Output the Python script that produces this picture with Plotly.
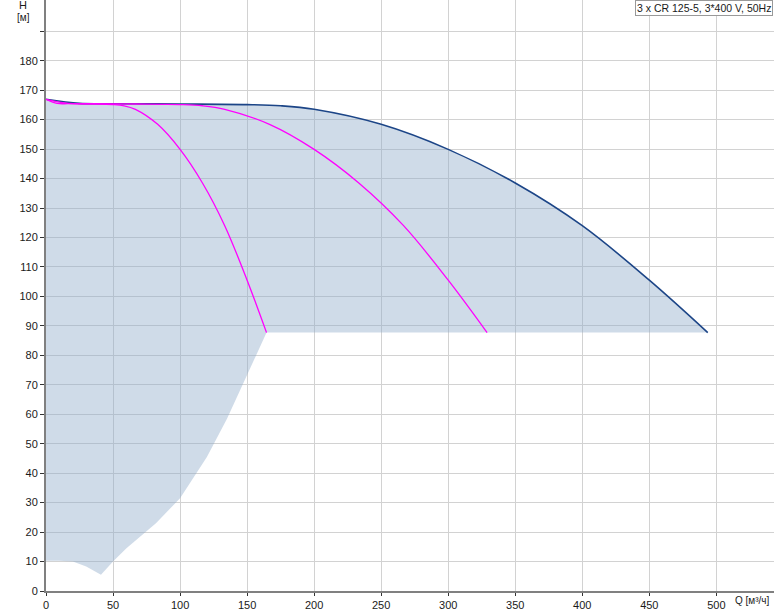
import plotly.graph_objects as go

# Data
q_three = [0, 25, 50, 100, 150, 175, 200, 250, 300, 350, 400, 450, 493.6]
h_three = [166.9, 165.5, 165.4, 165.3, 165.1, 164.7, 163.5, 158.4, 149.9, 138.5, 124.0, 105.5, 87.7]

q_two = [0, 16.7, 33.3, 66.7, 100, 116.7, 133.3, 166.7, 200, 233.3, 266.7, 300, 329]
h_two = [166.9, 165.5, 165.4, 165.3, 165.1, 164.7, 163.5, 158.4, 149.9, 138.5, 124.0, 105.5, 87.7]

q_one = [0, 8.3, 16.7, 33.3, 50, 58.3, 66.7, 83.3, 100, 116.7, 133.3, 150, 164.5]
h_one = [166.9, 165.5, 165.4, 165.3, 165.1, 164.7, 163.5, 158.4, 149.9, 138.5, 124.0, 105.5, 87.7]

q_low = [0, 10, 20, 30, 41, 50, 60, 70, 82, 100, 112, 120, 135, 146, 155, 164.5, 493.6]
h_low = [10.3, 10.3, 10.0, 8.3, 5.5, 10.0, 14.5, 18.5, 23.0, 31.5, 40.0, 45.5, 58.5, 69.5, 78.5, 87.7, 87.7]

x_ticks = [0, 50, 100, 150, 200, 250, 300, 350, 400, 450, 500]
y_ticks = [0, 10, 20, 30, 40, 50, 60, 70, 80, 90, 100, 110, 120, 130, 140, 150, 160, 170, 180, 190]
y_ticktext = [str(v) for v in y_ticks[:-1]] + [""]

title_text = "3 x CR 125-5, 3*400 V, 50Hz"

fig = go.Figure()

fig.add_trace(go.Scatter(x=q_low, y=h_low, mode="lines", line=dict(width=0, color="rgba(0,0,0,0)"),
                         hoverinfo="skip", showlegend=False))
fig.add_trace(go.Scatter(x=q_three, y=h_three, mode="lines", fill="tonexty",
                         fillcolor="rgba(140,170,200,0.42)",
                         line=dict(color="#1c4587", width=1.6, shape="spline"), showlegend=False))
fig.add_trace(go.Scatter(x=q_two, y=h_two, mode="lines",
                         line=dict(color="#ff00ff", width=1.3, shape="spline"), showlegend=False))
fig.add_trace(go.Scatter(x=q_one, y=h_one, mode="lines",
                         line=dict(color="#ff00ff", width=1.3, shape="spline"), showlegend=False))

font_family = "Liberation Sans, Arial, sans-serif"

fig.update_layout(
    width=774, height=611,
    margin=dict(l=46, r=0, t=0, b=17, pad=0),
    paper_bgcolor="white", plot_bgcolor="white",
    font=dict(family=font_family, size=11, color="#1a1a1a"),
    showlegend=False,
    xaxis=dict(range=[0, 543], tickvals=x_ticks, ticktext=[str(v) for v in x_ticks],
               showgrid=True, gridcolor="#d2d2d2", gridwidth=1,
               showline=True, linecolor="#808080", linewidth=2,
               ticks="outside", ticklen=3, tickcolor="#333333",
               zeroline=False, tickfont=dict(size=11)),
    yaxis=dict(range=[0, 200.6], tickvals=y_ticks, ticktext=y_ticktext,
               showgrid=True, gridcolor="#d2d2d2", gridwidth=1,
               showline=True, linecolor="#808080", linewidth=2,
               ticks="outside", ticklen=4, tickcolor="#333333",
               zeroline=False, tickfont=dict(size=11)),
    annotations=[
        dict(text="H", xref="paper", yref="paper", x=-0.031, y=0.992, xanchor="center", yanchor="middle",
             showarrow=False, font=dict(size=11, color="#1a1a1a")),
        dict(text="[м]", xref="paper", yref="paper", x=-0.031, y=0.97, xanchor="center", yanchor="middle",
             showarrow=False, font=dict(size=10, color="#1a1a1a")),
        dict(text="Q [м³/ч]", xref="paper", yref="paper", x=0.971, y=-0.0169, xanchor="center", yanchor="middle",
             showarrow=False, font=dict(size=10, color="#1a1a1a")),
        dict(text=title_text, xref="paper", yref="paper", x=0.9986, y=1, xanchor="right", yanchor="top",
             showarrow=False, font=dict(size=10.5, color="#1a1a1a"),
             bgcolor="white", bordercolor="#999999", borderwidth=1, borderpad=1),
    ],
)

fig.write_html("out.html", config={"displayModeBar": False},
               post_script="document.body.style.margin='0px';document.body.style.overflow='hidden';")
